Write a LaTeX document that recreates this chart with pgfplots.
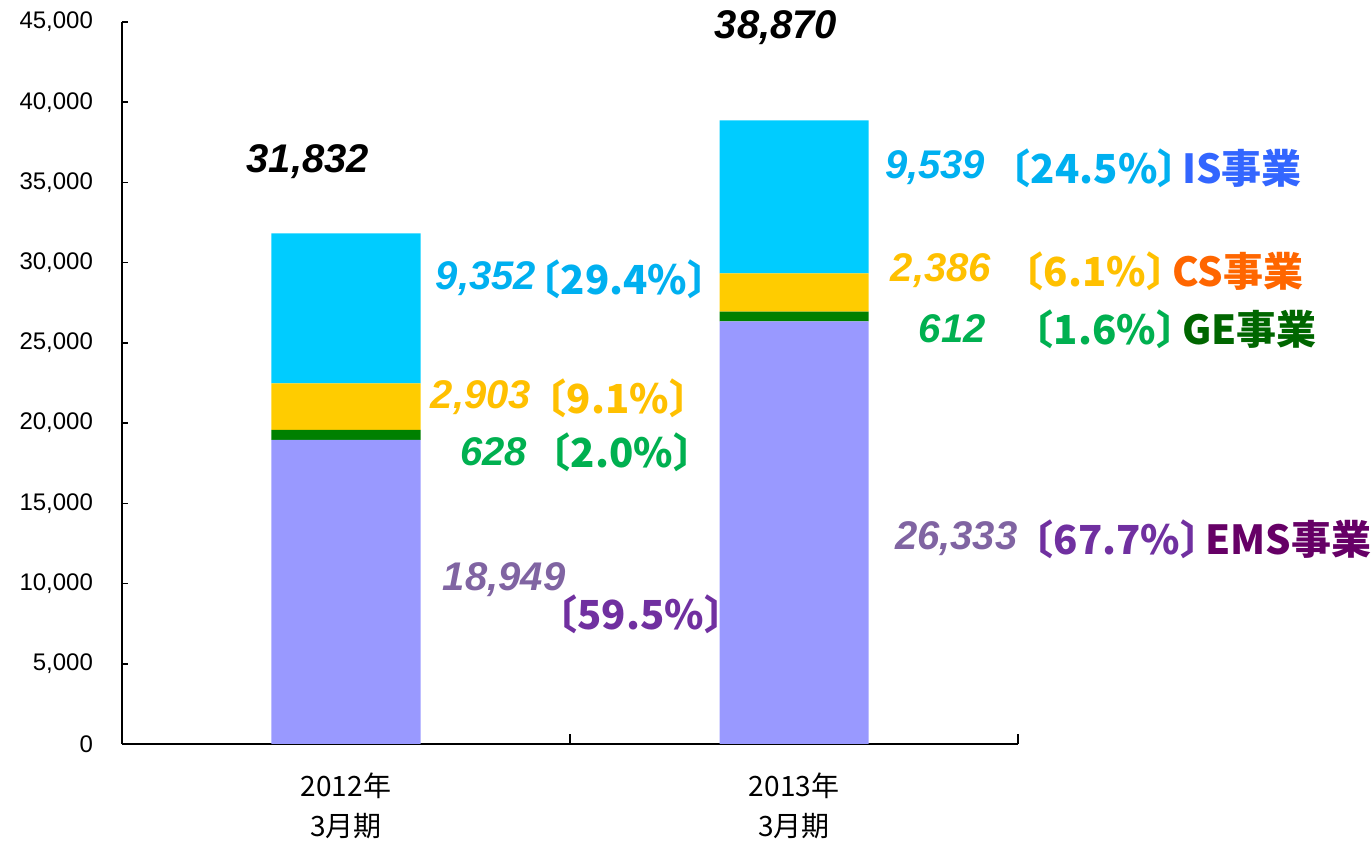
\documentclass[border=0pt]{standalone}
\usepackage{fontspec}
\setmainfont{Liberation Sans}
\newfontfamily\jp{Noto Sans CJK JP}
\usepackage{pgfplots}
\pgfplotsset{compat=1.18}
\definecolor{barIS}{HTML}{00CCFF}
\definecolor{barCS}{HTML}{FFCC00}
\definecolor{barGE}{HTML}{008000}
\definecolor{barEMS}{HTML}{9999FF}
\definecolor{txtIS}{HTML}{00B0F0}
\definecolor{nameIS}{HTML}{3366FF}
\definecolor{txtCS}{HTML}{FFC000}
\definecolor{nameCS}{HTML}{FF6600}
\definecolor{txtGE}{HTML}{00B050}
\definecolor{nameGE}{HTML}{006600}
\definecolor{txtEMS}{HTML}{8064A2}
\definecolor{brEMS}{HTML}{7030A0}
\definecolor{nameEMS}{HTML}{660066}
\newcommand{\brk}[1]{\kern-0.45em〔#1〕\kern-0.45em}
\begin{document}
\begin{tikzpicture}
\useasboundingbox (0,0) rectangle (686pt,420.5pt);
\begin{axis}[
  at={(61pt,48.5pt)}, anchor=south west,
  scale only axis, width=448pt, height=361pt,
  xmin=0, xmax=2, ymin=0, ymax=45000,
  ybar stacked, bar width=74.5pt,
  axis x line=bottom, axis y line=left,
  axis line style={-, line width=1pt, black},
  tick align=inside,
  xtick={0.5,1.5},
  xticklabels={{2012年\\3月期},{2013年\\3月期}},
  xticklabel style={font=\jp\fontsize{14}{20}\selectfont, align=center, yshift=-11pt},
  major x tick style={draw=none},
  minor xtick={1,2},
  minor tick length=5pt,
  minor x tick style={line width=0.6pt, black},
  ytick={0,5000,...,45000},
  major tick length=3pt,
  y tick style={line width=0.8pt, black},
  scaled y ticks=false,
  yticklabel style={font=\fontsize{12}{14}\selectfont, xshift=-11pt,
    /pgf/number format/.cd, 1000 sep={,}, assume math mode=true},
  clip=false,
]
\addplot[fill=barEMS, draw=none] coordinates {(0.5,18949) (1.5,26333)};
\addplot[fill=barGE, draw=none] coordinates {(0.5,628) (1.5,612)};
\addplot[fill=barCS, draw=none] coordinates {(0.5,2903) (1.5,2386)};
\addplot[fill=barIS, draw=none] coordinates {(0.5,9352) (1.5,9539)};

\tikzset{num/.style={font=\fontsize{20}{24}\selectfont\bfseries\itshape, inner sep=0pt, anchor=center},
         br/.style={font=\jp\fontsize{20}{24}\selectfont\bfseries, inner sep=0pt, anchor=center},
         nm/.style={font=\jp\fontsize{20}{24}\selectfont\bfseries, inner sep=0pt, anchor=west}}
% totals
\node[num, black] at (axis cs:0.415,36274) {31,832};
\node[num, black] at (axis cs:1.460,44626) {38,870};
% 2012
\node[num, txtIS] at (axis cs:0.8125,28982) {9,352};
\node[br, txtIS] at (axis cs:1.1205,28982) {\brk{29.4\%}};
\node[num, txtCS] at (axis cs:0.801,21565) {2,903};
\node[br, txtCS] at (axis cs:1.107,21565) {\brk{9.1\%}};
\node[num, txtGE] at (axis cs:0.830,18199) {628};
\node[br, txtGE] at (axis cs:1.116,18199) {\brk{2.0\%}};
\node[num, txtEMS] at (axis cs:0.853,10222) {18,949};
\node[br, brEMS] at (axis cs:1.158,8103) {\brk{59.5\%}};
% 2013
\node[num, txtIS] at (axis cs:1.815,35900) {9,539};
\node[br, txtIS] at (axis cs:2.170,35900) {\brk{24.5\%}};
\node[nm, nameIS] at (axis cs:2.366,35900) {IS事業};
\node[num, txtCS] at (axis cs:1.828,29481) {2,386};
\node[br, txtCS] at (axis cs:2.172,29481) {\brk{6.1\%}};
\node[nm, nameCS] at (axis cs:2.344,29481) {CS事業};
\node[num, txtGE] at (axis cs:1.853,25866) {612};
\node[br, txtGE] at (axis cs:2.194,25866) {\brk{1.6\%}};
\node[nm, nameGE] at (axis cs:2.366,25866) {GE事業};
\node[num, txtEMS] at (axis cs:1.862,12777) {26,333};
\node[br, brEMS] at (axis cs:2.221,12777) {\brk{67.7\%}};
\node[nm, nameEMS] at (axis cs:2.417,12777) {EMS事業};
\end{axis}
\end{tikzpicture}
\end{document}
